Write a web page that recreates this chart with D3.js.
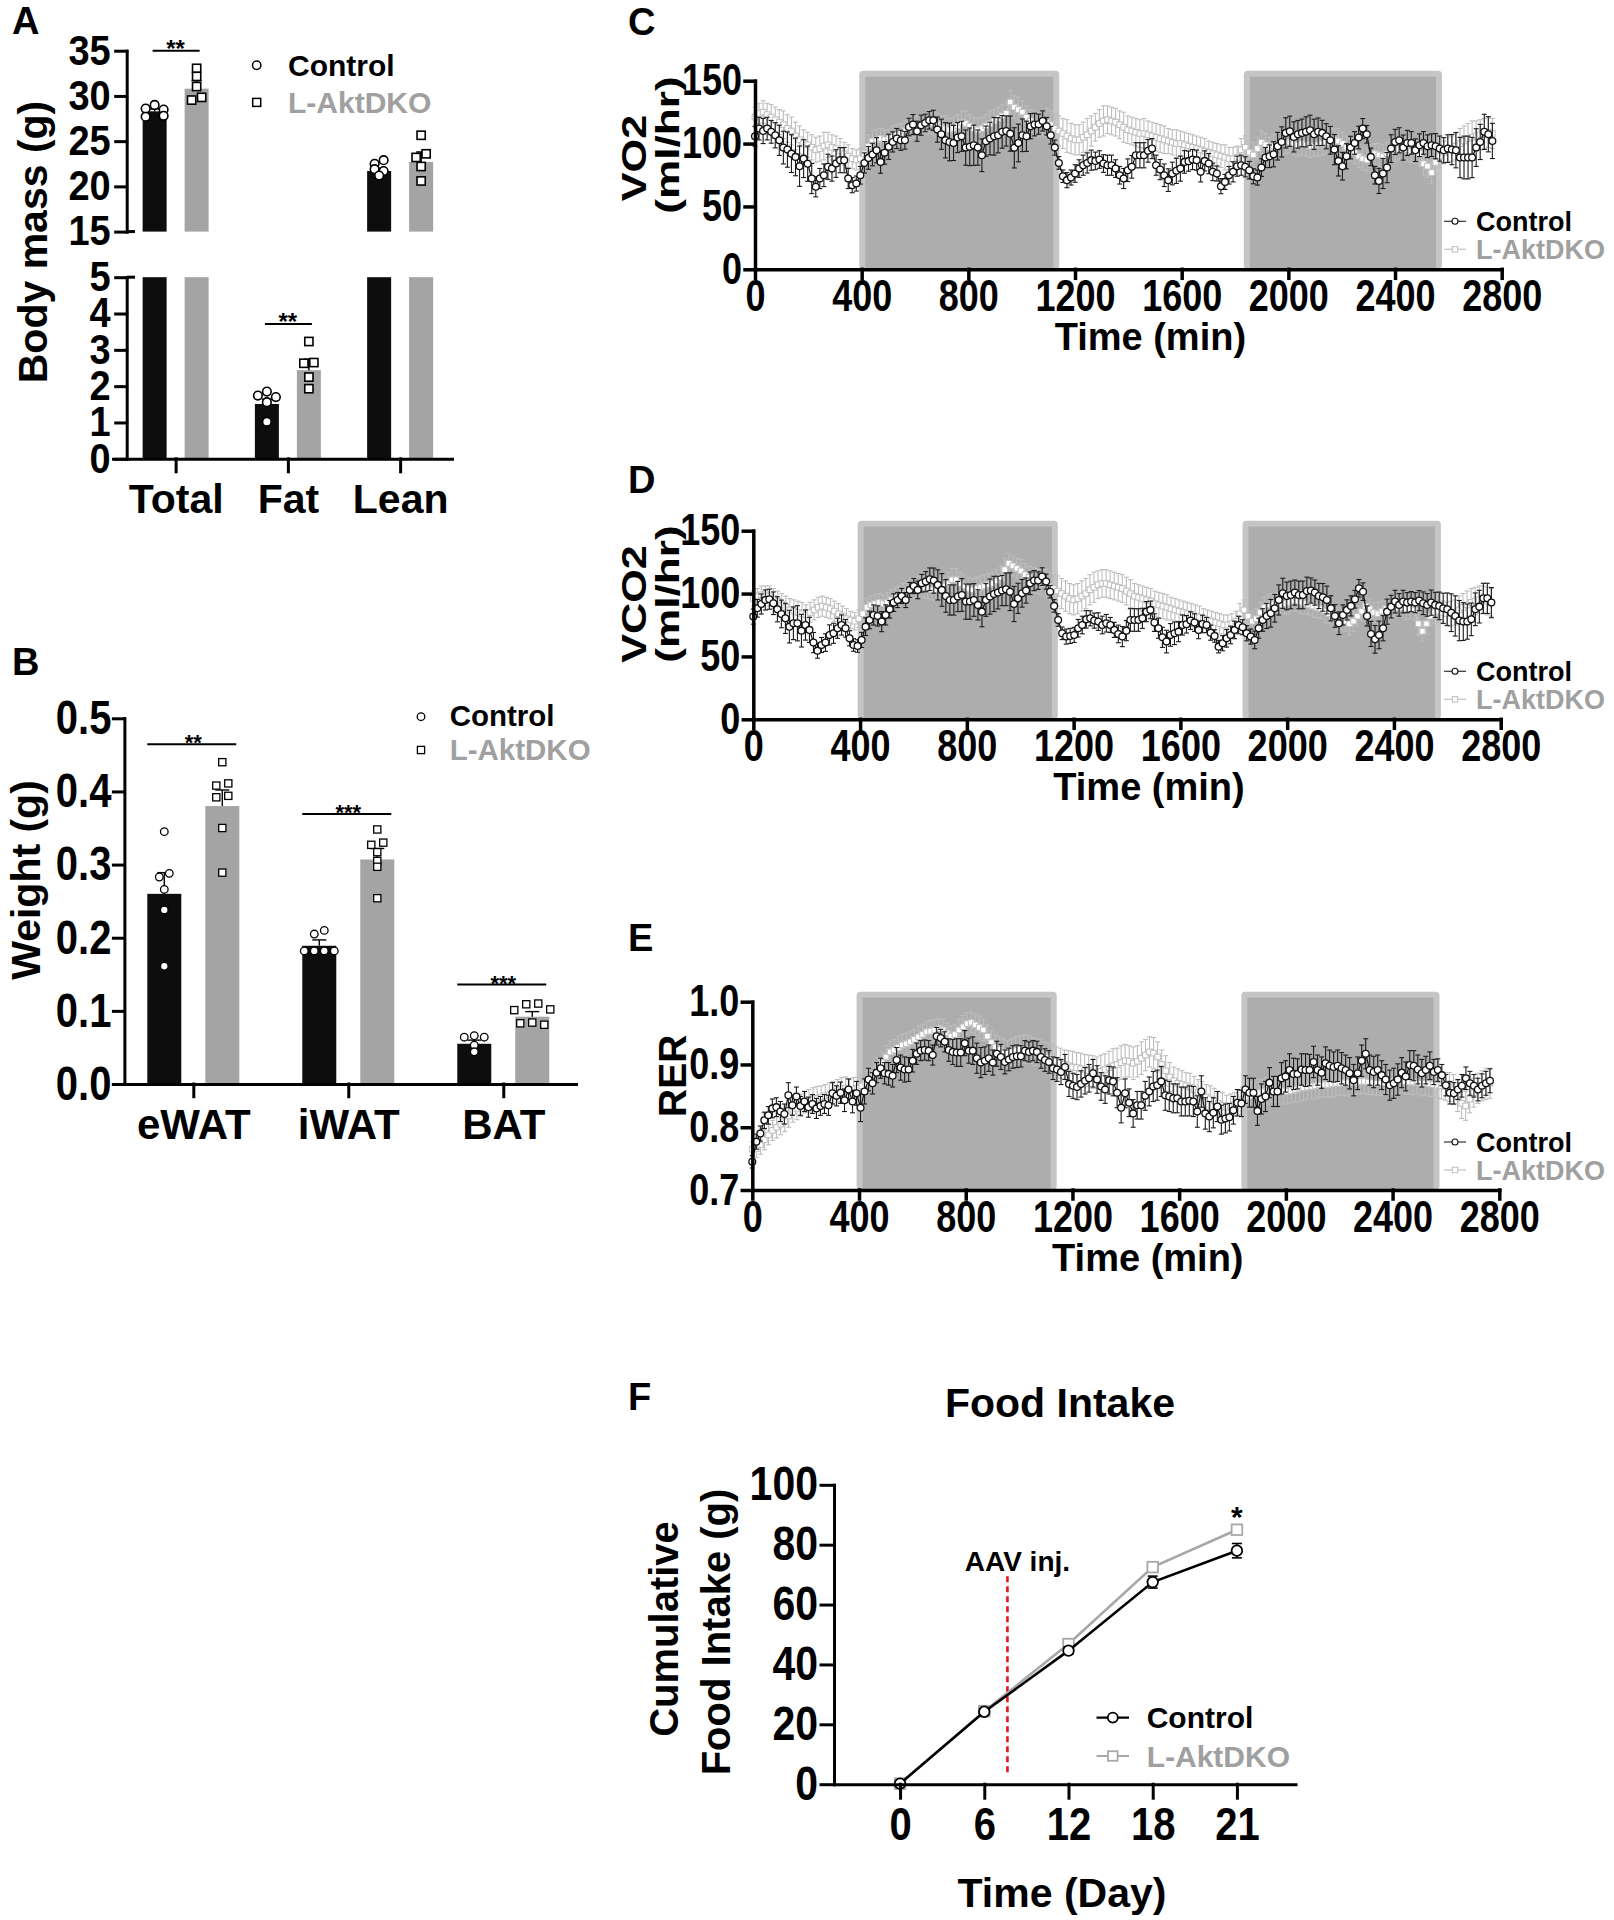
<!DOCTYPE html>
<html>
<head>
<meta charset="utf-8">
<script src="https://cdn.jsdelivr.net/npm/d3@7"></script>
<style>
  body { margin: 0; background: #fff; }
</style>
</head>
<body>
<script>
// ---------------- data ----------------

// A: body composition (g)
var massGroups = ['Total', 'Fat', 'Lean'];
var massCtrlMean = [28.3, 1.51, 21.7];
var massCtrlSem = [0.25, 0.13, 0.3];
var massKoMean = [30.8, 2.44, 22.7];
var massKoSem = [0.9, 0.3, 1.1];
var massCtrlPts = [[29.0, 28.6, 28.5, 27.8, 27.7], [1.85, 1.74, 1.70, 1.56, 1.02], [22.9, 22.5, 21.9, 21.7, 21.2]];
var massKoPts = [[33.05, 32.16, 31.04, 29.84, 29.54], [3.23, 2.65, 2.63, 2.25, 1.93], [25.65, 23.6, 23.2, 22.2, 20.6]];
var massTicksUpper = [15, 20, 25, 30, 35];
var massTicksLower = [0, 1, 2, 3, 4, 5];
var massSig = [{ group: 'Total', value: 35.0, label: '**' }, { group: 'Fat', value: 3.71, label: '**' }];

// B: fat depot weight (g)
var fatGroups = ['eWAT', 'iWAT', 'BAT'];
var fatCtrlMean = [0.260, 0.189, 0.055];
var fatCtrlSem = [0.029, 0.008, 0.005];
var fatKoMean = [0.380, 0.307, 0.092];
var fatKoSem = [0.022, 0.015, 0.007];
var fatCtrlPts = [[0.345, 0.288, 0.283, 0.266, 0.238, 0.161], [0.210, 0.205, 0.182, 0.182, 0.182, 0.182], [0.066, 0.064, 0.064, 0.053, 0.044]];
var fatKoPts = [[0.440, 0.411, 0.408, 0.394, 0.392, 0.350, 0.289], [0.348, 0.330, 0.327, 0.317, 0.305, 0.297, 0.254], [0.110, 0.109, 0.102, 0.101, 0.084, 0.083, 0.081]];
var fatTicks = [0, 0.1, 0.2, 0.3, 0.4, 0.5];
var fatSig = [{ group: 'eWAT', value: 0.4645, label: '**' }, { group: 'iWAT', value: 0.369, label: '***' }, { group: 'BAT', value: 0.136, label: '***' }];

// C-E: indirect calorimetry, evenly sampled from 0 to T_LAST min
var T_LAST = 2765;
var timeTicks = [0, 400, 800, 1200, 1600, 2000, 2400, 2800];
var darkPhases = [[391, 1141], [1833, 2576]];

var vo2Ctrl = [105.8,111.9,110,111.9,109.3,106.6,102.6,96.8,95.2,92, 89.4,82,88,84,72.2,65.6,72.2,74.8,81.5,80.1,
  84.1,86.8,86.8,72.2,66.9,68.2,74.8,84.6,88.6,91.3, 94.7,85.4,92.6,97.4,101.3,104,102.6,102.6,113.2,115.1,
  109.8,114.6,116.4,118.5,118.5,111.1,107.4,102.6,101.3,100.5, 104.8,105.8,96.8,97.4,98.7,96.8,90.7,101.9,104,105.8,
  106.6,109.3,110,107.9,96.6,100.5,106.6,105.8,113.8,115.1, 115.4,118,113.8,106.6,96.8,84.6,74,70.9,73,76.2,
  80.1,82.8,84.6,86.8,86.2,87.3,84.1,82.8,82.8,80.1, 74.8,72.2,
  78.8,81.5,90.7,90.7,90.7,94.2,96,82.8,79.3,74.8, 70.9,76.2,78.3,80.1,85.4,86,87.3,86.8,77.5,86.2,
  84.1,77.5,76.2,66.1,69.5,74.8,77.5,82,82.8,81.5, 78.8,74,73,80.9,88.9,89.9,91.5,97.9,101.3,108.5,
  109.8,105.3,107.4,108.5,109.3,110.6,107.4,109.3,108.5,105.8, 102.6,95.2,86.2,82,89.9,96.8,100.5,104.8,111.9,107.4,
  89.4,74.8,70.3,76.2,80.9,96,101.3,102.6,96.8,100.5, 100.5,94.7,98.7,100.5,97.9,98.7,97.9,96,94.7,96,
  95.2,94.7,88.9,88.9,88.9,88.9,96.8,101.3,109.3,107.4, 102.1];
var vo2CtrlSem = [8,9,10,9,9,10,12,13,14,15, 15,16,15,14,12,8,8,9,10,10, 11,10,10,8,6,6,7,8,9,9,
  10,9,9,10,8,8,8,7,7,8, 8,8,7,7,8,10,12,14,15,14, 12,12,14,15,16,14,13,12,13,15,
  14,13,12,14,16,15,13,12,10,9, 8,8,7,7,6,5,5,6,6,7, 7,8,8,8,7,7,7,8,8,7,
  7,8,9,9,10,10,10,9,8,8, 8,9,9,9,10,10,9,8,8,8, 8,8,8,7,6,6,6,7,8,8,
  8,8,7,6,6,7,8,9,10,11, 12,12,12,12,11,11,12,12,12,11, 10,10,11,12,12,11,10,9,9,9,
  8,7,7,7,10,12,12,11,10,10, 10,10,9,9,9,9,9,9,10,10, 10,11,12,14,16,17,17,16,15,14, 14,14,14];
var vo2Ko = [121,124,125,123,121,119,117,115,112,110, 106,103,101,99,97,95,96,98,99,97,
  96,94,92,90,88,87,88,92,98,102, 103,104,103,104,106,107,108,110,112,113,
  114,115,116,117,116,115,113,112,111,112, 114,117,116,114,112,111,112,114,116,118,
  120,122,124,133,129,127,125,121,118,116, 115,116,117,115,112,110,108,106,104,103,
  103,105,107,110,113,116,118,119,118,117, 115,113,111,110,109,108,108,107,106,105,
  104,103,102,101,100,100,99,98,97,96, 95,94,93,92,91,90,89,88,88,89,
  95,97,93,91,96,101,99,97,98,99, 100,101,101,100,99,100,99,98,98,99,
  100,101,102,103,102,100,97,95,93,90, 88,87,90,92,91,90,92,94,95,96,
  96,95,94,93,92,84,82,77,85,90, 93,95,96,98,100,102,104,105,106,107, 108,109,108];
var vo2KoSem = [8,8,9,9,10,10,10,11,11,11, 11,11,10,10,10,10,10,11,10,10, 10,10,9,9,8,8,8,8,9,8,
  8,8,8,7,8,8,8,8,9,8, 8,8,8,9,9,9,9,10,9,9, 9,9,10,9,9,9,9,9,10,9,
  9,9,9,9,9,10,9,9,9,10, 10,10,11,11,12,12,12,13,12,12, 12,12,13,12,11,11,12,11,11,11,
  11,12,11,11,11,11,12,11,11,11, 11,11,10,10,11,10,10,10,10,10, 10,10,9,9,9,9,10,9,9,9,
  9,9,9,10,9,9,9,8,9,9, 9,9,8,9,9,9,9,9,8,9, 9,9,9,9,10,9,9,9,9,9,
  9,9,9,8,9,9,9,9,9,9, 9,9,9,9,10,9,9,9,9,9, 9,10,10,11,12,12,12,13,12,12, 12,12,12];

var vco2Ctrl = [81.7,88.3,91.7,94.9,95.5,92.3,87.5,83.8,80.3,73.7, 76.4,76.4,70.5,75,71.1,61,54.6,59.1,61,67.1,
  68.4,72.4,75,72.4,64.4,59.1,58.3,63.1,73.7,79, 83,82.2,77.7,83,87.5,92.8,94.9,98.1,94.9,102.9,
  106,102.9,108.2,109.5,111.4,110.3,106.9,102.9,98.1,94.9, 94.9,97.6,98.9,93.6,93.6,94.9,91,85.6,94.9,97.6,
  99.7,100.8,102.4,103.4,101.5,91.7,96.2,100.2,102.4,108.2, 110.3,110.3,113.5,109.5,101.5,90.2,79,68.4,65.8,66.3,
  67.1,72.4,75,79.5,80.3,78.5,77.7,75,76.4,75, 71.1,67.9,65.8,
  70.5,79,79,79,80.3,85.6,87,76.9,72.4,65.2, 61.8,67.1,68.4,69.7,75,75.6,78.5,76.9,71.1,75.8,
  75,68.9,66.3,57.8,60.5,64.4,67.1,71.1,75,73.2, 68.4,65.8,63.1,72.4,79,82.2,84.3,88.3,94.9,100.2,
  98.1,98.9,100.8,98.9,98.9,102.1,102.4,100.8,98.1,97, 94.9,88.3,82.2,76.4,83,87,90.2,95.5,104.2,101.5,
  82.2,67.9,63.6,67.1,72.4,85.6,89.6,93.6,91,93.6, 92.8,93.6,92.8,94.4,92.3,91,92.8,91,90.2,88.3,
  87.5,84.8,82.2,78.5,77.7,77.7,79.5,87.5,89.6,96.2, 96.2,92.8];
var vco2CtrlSem = [6,7,8,8,8,9,10,11,12,13, 13,14,13,12,10,8,6,6,7,8, 8,8,8,7,6,5,5,6,7,7,
  8,8,8,8,7,7,6,6,6,6, 6,7,7,8,9,10,12,13,13,12, 12,12,13,14,14,13,12,12,13,14,
  14,13,12,13,15,14,12,11,10,9, 8,7,7,6,5,5,5,5,6,6, 6,7,7,7,6,6,7,7,7,6,
  6,7,8,8,9,9,9,8,8,7, 7,8,8,9,9,9,8,8,7,7, 7,7,7,6,6,5,5,6,7,7,
  7,7,6,6,6,7,8,9,10,11, 11,12,12,11,11,10,11,11,11,10, 10,10,11,11,10,9,9,8,8,8,
  7,7,7,8,10,11,11,10,10,9, 9,9,9,8,8,8,8,9,9,10, 10,11,12,13,15,16,16,15,14,13, 13,13,12,12,12];
var vco2Ko = [96,98,99,99,98,96,94,91,89,87, 86,85,84,83,85,87,89,90,89,88,
  86,84,82,80,79,78,80,84,89,91, 92,93,92,93,95,97,98,100,102,104,
  105,106,105,104,103,103,104,106,108,111, 111,108,106,104,103,104,105,106,107,108,
  110,113,119,124,122,120,118,115,113,111, 110,109,108,106,104,102,100,98,96,95,
  96,98,100,103,105,107,108,108,107,106, 105,104,102,100,98,97,96,95,94,92,
  91,90,89,88,87,86,85,84,83,82, 81,80,79,78,77,76,75,75,76,78,
  84,87,82,78,80,85,89,91,92,93, 91,92,93,94,94,93,92,91,90,89,
  88,86,84,82,80,79,78,76,78,82, 86,90,88,85,84,86,88,89,90,89,
  89,88,88,87,76,70,76,82,85,86, 85,84,84,85,87,89,91,93,94,95, 95,94,93];
var vco2KoSem = [6,6,7,7,8,8,8,9,9,9, 9,9,9,8,8,8,8,8,8,8, 8,8,8,8,7,7,7,7,7,7,
  7,7,7,8,8,8,8,8,8,8, 8,8,8,8,8,8,8,8,9,9, 9,9,9,9,9,9,9,9,9,9,
  9,9,9,8,8,8,9,9,9,10, 10,10,11,11,11,12,12,12,12,12, 12,12,12,12,12,11,11,11,11,11,
  11,11,11,11,10,10,10,10,10,10, 10,10,10,9,9,9,9,9,9,9, 9,8,8,8,8,8,8,8,8,8,
  8,8,8,8,8,8,8,8,8,8, 8,8,9,8,8,9,8,8,9,8, 8,9,8,8,9,8,8,9,8,8,
  8,9,8,8,9,8,8,9,8,8, 8,9,8,8,9,8,8,8,9,9, 9,9,10,10,11,11,11,11,11,11, 11,11,11];

var rerCtrl = [0.745,0.777,0.790,0.811,0.819,0.830,0.832,0.825,0.821,0.851, 0.835,0.849,0.834,0.841,0.832,0.837,0.830,0.834,0.837,0.835,
  0.854,0.850,0.855,0.843,0.860,0.841,0.854,0.831,0.857,0.876, 0.870,0.887,0.894,0.886,0.885,0.882,0.907,0.895,0.892,0.892,
  0.906,0.917,0.922,0.923,0.922,0.915,0.945,0.942,0.936,0.923, 0.920,0.919,0.919,0.934,0.922,0.922,0.910,0.903,0.906,0.910,
  0.903,0.917,0.912,0.904,0.908,0.912,0.913,0.913,0.922,0.920, 0.922,0.920,0.912,0.907,0.904,0.894,0.892,0.888,0.896,0.869,
  0.866,0.864,0.869,0.874,0.878,0.886,0.876,0.865,0.860,0.875, 0.873,0.855,0.831,0.854,
  0.839,0.822,0.835,0.835,0.850,0.857,0.865,0.867,0.873,0.851, 0.849,0.846,0.846,0.841,0.841,0.842,0.841,0.825,0.857,0.822,
  0.817,0.823,0.833,0.812,0.814,0.816,0.827,0.839,0.838,0.860, 0.855,0.855,0.826,0.845,0.849,0.871,0.857,0.857,0.878,0.881,
  0.891,0.885,0.885,0.892,0.891,0.891,0.904,0.891,0.887,0.902, 0.898,0.896,0.898,0.894,0.891,0.886,0.875,0.886,0.906,0.917,
  0.891,0.888,0.891,0.883,0.876,0.867,0.870,0.876,0.887,0.881, 0.899,0.898,0.892,0.886,0.891,0.898,0.888,0.891,0.883,0.867,
  0.855,0.854,0.860,0.866,0.878,0.870,0.866,0.860,0.866,0.870, 0.874];
var rerCtrlSem = [0.010,0.012,0.012,0.013,0.014,0.015,0.015,0.016,0.016,0.020, 0.016,0.015,0.015,0.016,0.016,0.015,0.016,0.015,0.015,0.016,
  0.017,0.016,0.017,0.018,0.017,0.018,0.019,0.022,0.020,0.018, 0.017,0.016,0.016,0.017,0.018,0.018,0.020,0.020,0.020,0.019,
  0.018,0.017,0.016,0.016,0.016,0.016,0.014,0.014,0.016,0.018, 0.020,0.022,0.022,0.020,0.020,0.022,0.024,0.024,0.022,0.021,
  0.020,0.020,0.020,0.019,0.018,0.018,0.018,0.017,0.016,0.016, 0.016,0.017,0.018,0.018,0.018,0.018,0.019,0.020,0.020,0.020,
  0.020,0.020,0.021,0.021,0.022,0.022,0.022,0.022,0.022,0.022, 0.023,0.024,0.024,0.023,0.022,0.022,0.022,0.022,0.023,0.023,
  0.024,0.024,0.024,0.024,0.024,0.023,0.023,0.023,0.023,0.024, 0.024,0.025,0.025,0.025,0.024,0.024,0.024,0.023,0.023,0.022,
  0.022,0.021,0.021,0.022,0.023,0.023,0.023,0.024,0.024,0.024, 0.024,0.024,0.025,0.025,0.026,0.025,0.024,0.025,0.026,0.025,
  0.025,0.024,0.025,0.026,0.025,0.024,0.025,0.025,0.024,0.025, 0.025,0.026,0.025,0.024,0.024,0.025,0.024,0.023,0.024,0.024,
  0.024,0.025,0.024,0.023,0.023,0.024,0.023,0.022,0.022,0.022, 0.020,0.018,0.017,0.017,0.018,0.017,0.016,0.018,0.018,0.019,
  0.018,0.018,0.019,0.019,0.019];
var rerKo = [0.765,0.766,0.772,0.780,0.788,0.795,0.800,0.805,0.810,0.818, 0.825,0.830,0.835,0.840,0.842,0.845,0.846,0.848,0.850,0.852,
  0.855,0.858,0.860,0.862,0.858,0.860,0.862,0.866,0.870,0.878, 0.885,0.893,0.903,0.912,0.920,0.923,0.927,0.931,0.933,0.936,
  0.940,0.944,0.948,0.952,0.953,0.955,0.957,0.955,0.950,0.945, 0.948,0.955,0.960,0.965,0.967,0.963,0.959,0.955,0.945,0.935,
  0.928,0.924,0.920,0.918,0.920,0.922,0.924,0.925,0.924,0.922, 0.920,0.917,0.914,0.911,0.908,0.905,0.902,0.900,0.898,0.896,
  0.895,0.893,0.892,0.890,0.888,0.887,0.889,0.892,0.895,0.898, 0.900,0.903,0.906,0.905,0.902,0.905,0.910,0.915,0.920,0.918,
  0.912,0.900,0.890,0.880,0.874,0.870,0.868,0.866,0.864,0.860, 0.856,0.852,0.848,0.845,0.842,0.838,0.835,0.832,0.833,0.836,
  0.840,0.845,0.848,0.850,0.852,0.855,0.857,0.858,0.860,0.860, 0.860,0.858,0.857,0.858,0.860,0.862,0.863,0.864,0.865,0.866,
  0.867,0.868,0.868,0.869,0.870,0.870,0.871,0.871,0.872,0.872, 0.873,0.873,0.872,0.871,0.870,0.870,0.871,0.872,0.873,0.874,
  0.874,0.873,0.872,0.872,0.871,0.870,0.870,0.869,0.868,0.867, 0.866,0.865,0.864,0.860,0.850,0.838,0.834,0.845,0.855,0.862,
  0.866,0.869,0.870];
var rerKoSem = [0.012,0.014,0.015,0.016,0.016,0.016,0.017,0.017,0.017,0.018, 0.017,0.018,0.018,0.017,0.018,0.018,0.019,0.018,0.018,0.019,
  0.018,0.018,0.019,0.018,0.018,0.019,0.018,0.018,0.019,0.018, 0.018,0.018,0.017,0.018,0.017,0.017,0.018,0.017,0.017,0.016,
  0.016,0.017,0.016,0.016,0.017,0.016,0.016,0.017,0.016,0.016, 0.016,0.017,0.018,0.017,0.016,0.017,0.018,0.017,0.018,0.019,
  0.019,0.020,0.021,0.020,0.021,0.022,0.021,0.022,0.022,0.021, 0.022,0.023,0.022,0.023,0.024,0.023,0.024,0.023,0.024,0.025,
  0.024,0.025,0.024,0.025,0.026,0.025,0.026,0.025,0.026,0.027, 0.026,0.027,0.026,0.025,0.026,0.025,0.026,0.025,0.024,0.025,
  0.024,0.023,0.024,0.023,0.022,0.023,0.022,0.021,0.022,0.021, 0.020,0.021,0.020,0.021,0.020,0.019,0.020,0.019,0.020,0.019,
  0.020,0.019,0.020,0.021,0.020,0.021,0.020,0.021,0.020,0.021, 0.020,0.021,0.020,0.019,0.020,0.021,0.020,0.019,0.020,0.021,
  0.020,0.019,0.020,0.021,0.020,0.019,0.020,0.021,0.020,0.019, 0.020,0.019,0.020,0.019,0.020,0.019,0.020,0.019,0.020,0.019,
  0.019,0.020,0.019,0.020,0.019,0.020,0.019,0.020,0.019,0.020, 0.021,0.022,0.023,0.024,0.025,0.024,0.023,0.022,0.023,0.024,
  0.024,0.025,0.024];

// F: cumulative food intake (g)
var foodDays = ['0', '6', '12', '18', '21'];
var foodCtrl = [0.2, 24.2, 44.6, 67.5, 78.0];
var foodCtrlSem = [0.3, 0.8, 1.2, 2.0, 2.4];
var foodKo = [0.2, 24.4, 46.8, 72.5, 85.0];
var foodKoSem = [0.3, 0.8, 1.8, 1.5, 1.2];
var foodTicks = [0, 20, 40, 60, 80, 100];
var aavInj = { day: 7.65, from: 4, to: 69.6, label: 'AAV inj.' };

// ---------------- drawing ----------------
var FONT = '"Liberation Sans", Arial, Helvetica, sans-serif';
var BLACK = '#0d0d0d', GREY = '#a4a4a4', GREY_TXT = '#a0a0a0';

var svg = d3.select('body').append('svg')
  .attr('width', 1614).attr('height', 1920)
  .style('font-family', FONT).style('font-weight', 'bold');
svg.append('rect').attr('width', 1614).attr('height', 1920).attr('fill', '#fff');

function txt(g, x, y, s, size, anchor, fill) {
  return g.append('text').attr('x', x).attr('y', y).text(s)
    .attr('font-size', size).attr('text-anchor', anchor || 'start')
    .attr('fill', fill || '#000').attr('font-family', FONT).attr('font-weight', 'bold');
}

function styleAxis(sel, sw, fs) {
  sel.attr('font-family', null).attr('font-size', null);
  sel.selectAll('path, line').attr('stroke', '#000').attr('stroke-width', sw).attr('stroke-linecap', 'square');
  sel.selectAll('text').attr('font-size', fs).attr('font-family', FONT)
    .attr('font-weight', 'bold').attr('fill', '#000');
}

// the figure's tick labels are set in a tall, narrow face: stretch vertically about anchor y
function stretch(sel, k, anchor) {
  sel.each(function() {
    var t = d3.select(this);
    var a = anchor == null ? (+t.attr('y') || 0) : anchor;
    t.attr('transform', 'translate(0,' + (a * (1 - k)) + ') scale(1,' + k + ')');
  });
}
function stretchXTicks(ax, k, fs) {
  ax.selectAll('.tick text').each(function() {
    var t = d3.select(this);
    stretch(t, k, +t.attr('y') + 0.71 * fs);
  });
}

function vtitle(g, x, y, s, size, k) {
  return g.append('text')
    .attr('transform', 'translate(' + x + ',' + y + ') scale(1,' + (k || 1) + ') rotate(-90)')
    .attr('text-anchor', 'middle').attr('font-size', size).attr('font-family', FONT)
    .attr('font-weight', 'bold').text(s);
}

// simple beeswarm: spread crowded points sideways, then centre each row
function swarm(vals, yf, cx, gap, step) {
  var placed = [];
  vals.forEach(function(v) {
    var y = yf(v), offs = [0], x = cx;
    for (var k = 1; k < 6; k++) offs.push(-k * step, k * step);
    for (var j = 0; j < offs.length; j++) {
      x = cx + offs[j];
      var free = placed.every(function(p) { return Math.hypot(p[0] - x, p[1] - y) >= gap; });
      if (free) break;
    }
    placed.push([x, y]);
  });
  var rows = [];
  placed.slice().sort(function(a, b) { return a[1] - b[1]; }).forEach(function(p) {
    var last = rows[rows.length - 1];
    if (last && p[1] - last[last.length - 1][1] < 4) last.push(p); else rows.push([p]);
  });
  rows.forEach(function(r) {
    var m = d3.mean(r, function(p) { return p[0]; }) - cx;
    r.forEach(function(p) { p[0] -= m; });
  });
  return placed;
}

function marker(g, shape, x, y, r, stroke, sw) {
  if (shape === 'circle') {
    g.append('circle').attr('cx', x).attr('cy', y).attr('r', r)
      .attr('fill', '#fff').attr('stroke', stroke).attr('stroke-width', sw);
  } else {
    g.append('rect').attr('x', x - r).attr('y', y - r).attr('width', 2 * r).attr('height', 2 * r)
      .attr('fill', '#fff').attr('stroke', stroke).attr('stroke-width', sw);
  }
}

// panel letters
[['A', 12, 34], ['B', 12, 675], ['C', 628, 35], ['D', 628, 493], ['E', 628, 951], ['F', 628, 1410]]
  .forEach(function(d) { txt(svg, d[1], d[2], d[0], 38); });

// ---- Panel A: broken y axis ----
(function() {
  var g = svg.append('g');
  var x = d3.scalePoint().domain(massGroups).range([113, 452]).padding(0.51).align(0.547);
  var yUp = d3.scaleLinear().domain([15, 35]).range([231.6, 50.7]);
  var yLo = d3.scaleLinear().domain([0, 5]).range([458.8, 277.2]);
  var segs = [yLo, yUp];
  function y(v) { return v >= 15 ? yUp(v) : yLo(v); }
  var barW = 24, off = 21;

  massGroups.forEach(function(grp, i) {
    [[massCtrlMean, massCtrlSem, BLACK, -off], [massKoMean, massKoSem, GREY, off]].forEach(function(s) {
      var m = s[0][i], cx = x(grp) + s[3];
      segs.forEach(function(sc) {
        var d = sc.domain();
        if (m > d[0]) {
          var top = sc(Math.min(m, d[1]));
          g.append('rect').attr('x', cx - barW / 2).attr('y', top)
            .attr('width', barW).attr('height', sc(d[0]) - top).attr('fill', s[2]);
        }
      });
      var e = s[1][i];
      g.append('line').attr('x1', cx).attr('x2', cx).attr('y1', y(m)).attr('y2', y(m + e))
        .attr('stroke', '#000').attr('stroke-width', 1.5);
      g.append('line').attr('x1', cx - 5).attr('x2', cx + 5).attr('y1', y(m + e)).attr('y2', y(m + e))
        .attr('stroke', '#000').attr('stroke-width', 1.5);
    });
    swarm(massCtrlPts[i], y, x(grp) - off, 8.8, 9).forEach(function(p) { marker(g, 'circle', p[0], p[1], 4.3, '#000', 1.6); });
    swarm(massKoPts[i], y, x(grp) + off, 9.4, 10).forEach(function(p) { marker(g, 'square', p[0], p[1], 4.1, '#000', 1.6); });
  });

  massSig.forEach(function(s) {
    var yy = y(s.value), cx = x(s.group);
    g.append('line').attr('x1', cx - off - 2).attr('x2', cx + off + 3).attr('y1', yy).attr('y2', yy)
      .attr('stroke', '#000').attr('stroke-width', 2);
    txt(g, cx, yy + 6, s.label, 24, 'middle');
  });

  var axU = g.append('g').attr('transform', 'translate(126.7,0)')
    .call(d3.axisLeft(yUp).tickValues(massTicksUpper).tickFormat(d3.format('d')).tickSize(11).tickSizeOuter(0).tickPadding(5));
  var axL = g.append('g').attr('transform', 'translate(126.7,0)')
    .call(d3.axisLeft(yLo).tickValues(massTicksLower).tickFormat(d3.format('d')).tickSize(11).tickSizeOuter(0).tickPadding(5));
  styleAxis(axU, 3, 38); styleAxis(axL, 3, 38);
  stretch(axU.selectAll('.tick text'), 1.1, 0);
  stretch(axL.selectAll('.tick text'), 1.1, 0);
  [yUp(15), yLo(5)].forEach(function(yy) {
    g.append('line').attr('x1', 126.7).attr('x2', 135).attr('y1', yy).attr('y2', yy)
      .attr('stroke', '#000').attr('stroke-width', 3);
  });
  var axX = g.append('g').attr('transform', 'translate(0,458.8)')
    .call(d3.axisBottom(x).tickSize(13).tickSizeOuter(0).tickPadding(12));
  styleAxis(axX, 3, 41);

  vtitle(g, 47, 242, 'Body mass (g)', 41);

  marker(g, 'circle', 256.7, 65.2, 4.2, '#000', 1.5);
  marker(g, 'square', 256.7, 102.4, 4, '#000', 1.5);
  txt(g, 288, 76, 'Control', 30);
  txt(g, 288, 113, 'L-AktDKO', 30, 'start', GREY_TXT);
})();

// ---- Panel B ----
(function() {
  var g = svg.append('g');
  var x = d3.scalePoint().domain(fatGroups).range([112.9, 576]).padding(0.494).align(0.525);
  var y = d3.scaleLinear().domain([0, 0.5]).range([1084, 718.3]);
  var barW = 34, off = 29;

  fatGroups.forEach(function(grp, i) {
    [[fatCtrlMean, fatCtrlSem, BLACK, -off], [fatKoMean, fatKoSem, GREY, off]].forEach(function(s) {
      var m = s[0][i], cx = x(grp) + s[3], e = s[1][i];
      g.append('rect').attr('x', cx - barW / 2).attr('y', y(m)).attr('width', barW)
        .attr('height', y(0) - y(m)).attr('fill', s[2]);
      g.append('line').attr('x1', cx).attr('x2', cx).attr('y1', y(m)).attr('y2', y(m + e))
        .attr('stroke', '#000').attr('stroke-width', 1.4);
      g.append('line').attr('x1', cx - 7).attr('x2', cx + 7).attr('y1', y(m + e)).attr('y2', y(m + e))
        .attr('stroke', '#000').attr('stroke-width', 1.4);
    });
    swarm(fatCtrlPts[i], y, x(grp) - off, 8.2, 10).forEach(function(p) { marker(g, 'circle', p[0], p[1], 3.8, '#000', 1.3); });
    swarm(fatKoPts[i], y, x(grp) + off, 8.2, 12).forEach(function(p) { marker(g, 'square', p[0], p[1], 3.6, '#000', 1.3); });
  });

  fatSig.forEach(function(s) {
    var yy = y(s.value), cx = x(s.group);
    g.append('line').attr('x1', cx - off - 17).attr('x2', cx + off + 14).attr('y1', yy).attr('y2', yy)
      .attr('stroke', '#000').attr('stroke-width', 2);
    txt(g, cx, yy + 6, s.label, 22, 'middle');
  });

  var axY = g.append('g').attr('transform', 'translate(124.4,0)')
    .call(d3.axisLeft(y).tickValues(fatTicks).tickFormat(d3.format('.1f')).tickSize(11).tickSizeOuter(0).tickPadding(2));
  styleAxis(axY, 3, 40);
  stretch(axY.selectAll('.tick text'), 1.2, 0);
  var axX = g.append('g').attr('transform', 'translate(0,1084)')
    .call(d3.axisBottom(x).tickSize(12.7).tickSizeOuter(0).tickPadding(12));
  styleAxis(axX, 3, 42);

  vtitle(g, 40, 880, 'Weight  (g)', 41);

  marker(g, 'circle', 421, 716.7, 3.8, '#000', 1.3);
  marker(g, 'square', 421, 750, 3.6, '#000', 1.3);
  txt(g, 449.7, 726, 'Control', 29.5);
  txt(g, 449.7, 760, 'L-AktDKO', 29.5, 'start', GREY_TXT);
})();

// ---- Panels C, D, E: time courses ----
function timePanel(o) {
  var g = svg.append('g');
  var x = d3.scaleLinear().domain([0, 2800]).range([o.left, o.right]);
  var y = d3.scaleLinear().domain(o.yDomain).range([o.bottom, o.top]);

  darkPhases.forEach(function(p) {
    g.append('rect').attr('x', x(p[0])).attr('y', o.top - 10)
      .attr('width', x(p[1]) - x(p[0])).attr('height', o.bottom - o.top + 10)
      .attr('rx', 4).attr('fill', '#c5c5c5');
    g.append('rect').attr('x', x(p[0]) + 6).attr('y', o.top - 4)
      .attr('width', x(p[1]) - x(p[0]) - 12).attr('height', o.bottom - o.top + 4)
      .attr('fill', '#adadad');
  });

  function series(vals, sem, lineCol, errCol, shape, mkStroke, r, sw) {
    var n = vals.length;
    var pts = vals.map(function(v, i) { return { t: i * T_LAST / (n - 1), v: v, e: sem[i] || 0 }; });
    var eg = g.append('g').attr('stroke', errCol).attr('stroke-width', 1.1);
    pts.forEach(function(p) {
      var cx = x(p.t), lo = y(p.v - p.e), hi = y(p.v + p.e);
      eg.append('line').attr('x1', cx).attr('x2', cx).attr('y1', lo).attr('y2', hi);
      eg.append('line').attr('x1', cx - 2.5).attr('x2', cx + 2.5).attr('y1', lo).attr('y2', lo);
      eg.append('line').attr('x1', cx - 2.5).attr('x2', cx + 2.5).attr('y1', hi).attr('y2', hi);
    });
    g.append('path').datum(pts)
      .attr('d', d3.line().x(function(p) { return x(p.t); }).y(function(p) { return y(p.v); }))
      .attr('fill', 'none').attr('stroke', lineCol).attr('stroke-width', 1.2);
    var mg = g.append('g');
    pts.forEach(function(p) { marker(mg, shape, x(p.t), y(p.v), r, mkStroke, sw); });
  }
  series(o.ko, o.koSem, '#c8c8c8', '#bdbdbd', 'square', '#c2c2c2', 2.8, 1.1);
  series(o.ctrl, o.ctrlSem, '#111', '#1a1a1a', 'circle', '#111', 3.4, 1.3);

  var axY = g.append('g').attr('transform', 'translate(' + o.left + ',0)')
    .call(d3.axisLeft(y).tickValues(o.ticks).tickFormat(o.fmt).tickSize(10).tickSizeOuter(0).tickPadding(3));
  styleAxis(axY, 3.5, 36);
  stretch(axY.selectAll('.tick text'), 1.22, 0);
  var axX = g.append('g').attr('transform', 'translate(0,' + o.bottom + ')')
    .call(d3.axisBottom(x).tickValues(timeTicks).tickFormat(d3.format('d')).tickSize(9).tickSizeOuter(0).tickPadding(7.5));
  styleAxis(axX, 3.5, 36);
  stretchXTicks(axX, 1.22, 36);

  txt(g, (o.left + o.right) / 2 + 22, o.bottom + 81, 'Time (min)', 38, 'middle');
  var mid = (o.top + o.bottom) / 2;
  o.title.forEach(function(l) { vtitle(g, l.x, mid + l.dy, l.text, l.size, l.k); });

  // legend
  var ly1 = o.bottom - 48, ly2 = o.bottom - 20;
  g.append('line').attr('x1', 1444).attr('x2', 1466).attr('y1', ly1).attr('y2', ly1).attr('stroke', '#333').attr('stroke-width', 1.2);
  marker(g, 'circle', 1455, ly1, 3, '#111', 1.1);
  g.append('line').attr('x1', 1444).attr('x2', 1466).attr('y1', ly2).attr('y2', ly2).attr('stroke', '#c2c2c2').attr('stroke-width', 1.2);
  marker(g, 'square', 1455, ly2, 2.7, '#c2c2c2', 1.1);
  txt(g, 1476, ly1 + 9.5, 'Control', 27);
  txt(g, 1476, ly2 + 9.5, 'L-AktDKO', 27, 'start', GREY_TXT);
}

timePanel({ left: 755, right: 1501.7, top: 80.7, bottom: 269.3, yDomain: [0, 150], ticks: [0, 50, 100, 150], fmt: d3.format('d'),
  ctrl: vo2Ctrl, ctrlSem: vo2CtrlSem, ko: vo2Ko, koSem: vo2KoSem,
  title: [{ text: 'VO2', x: 646, dy: -17, size: 36, k: 1.2 }, { text: '(ml/hr)', x: 679, dy: -30, size: 34, k: 1.3 }] });
timePanel({ left: 753.3, right: 1500.7, top: 530.7, bottom: 719.3, yDomain: [0, 150], ticks: [0, 50, 100, 150], fmt: d3.format('d'),
  ctrl: vco2Ctrl, ctrlSem: vco2CtrlSem, ko: vco2Ko, koSem: vco2KoSem,
  title: [{ text: 'VCO2', x: 646, dy: -21, size: 36, k: 1.2 }, { text: '(ml/hr)', x: 679, dy: -31, size: 34, k: 1.3 }] });
timePanel({ left: 752.3, right: 1499.3, top: 1001.7, bottom: 1190, yDomain: [0.7, 1.0], ticks: [0.7, 0.8, 0.9, 1.0], fmt: d3.format('.1f'),
  ctrl: rerCtrl, ctrlSem: rerCtrlSem, ko: rerKo, koSem: rerKoSem,
  title: [{ text: 'RER', x: 686, dy: -20, size: 39, k: 1 }] });

// ---- Panel F: food intake ----
(function() {
  var g = svg.append('g');
  var x = d3.scalePoint().domain(foodDays).range([834, 1295.5]).padding(0.74).align(0.53);
  var y = d3.scaleLinear().domain([0, 100]).range([1784.2, 1484.8]);

  txt(g, 1060, 1417, 'Food Intake', 41, 'middle');

  // AAV injection marker between the 6 and 12 day ticks
  var ax = x('6') + (aavInj.day - 6) / 6 * (x('12') - x('6'));
  g.append('line').attr('x1', ax).attr('x2', ax).attr('y1', y(aavInj.from)).attr('y2', y(aavInj.to))
    .attr('stroke', '#e3161d').attr('stroke-width', 2.6).attr('stroke-dasharray', '6,4');
  txt(g, ax + 10, y(aavInj.to) - 5, aavInj.label, 28, 'middle');

  function series(vals, sem, col, shape, mkCol) {
    var pts = vals.map(function(v, i) { return [x(foodDays[i]), v, sem[i]]; });
    pts.forEach(function(p) {
      var lo = y(p[1] - p[2]), hi = y(p[1] + p[2]);
      g.append('line').attr('x1', p[0]).attr('x2', p[0]).attr('y1', lo).attr('y2', hi).attr('stroke', mkCol).attr('stroke-width', 1.6);
      [lo, hi].forEach(function(yy) {
        g.append('line').attr('x1', p[0] - 5).attr('x2', p[0] + 5).attr('y1', yy).attr('y2', yy).attr('stroke', mkCol).attr('stroke-width', 1.6);
      });
    });
    g.append('path').datum(pts).attr('d', d3.line().x(function(p) { return p[0]; }).y(function(p) { return y(p[1]); }))
      .attr('fill', 'none').attr('stroke', col).attr('stroke-width', 2.6);
    pts.forEach(function(p) { marker(g, shape, p[0], y(p[1]), 5.3, mkCol, 1.8); });
  }
  series(foodKo, foodKoSem, '#a8a8a8', 'square', '#a8a8a8');
  series(foodCtrl, foodCtrlSem, '#000', 'circle', '#000');

  txt(g, x('21'), y(foodKo[4]) - 3, '*', 30, 'middle');

  var axY = g.append('g').attr('transform', 'translate(834,0)')
    .call(d3.axisLeft(y).tickValues(foodTicks).tickSize(13).tickSizeOuter(0).tickPadding(3));
  styleAxis(axY, 3, 41);
  stretch(axY.selectAll('.tick text'), 1.15, 0);
  var axX = g.append('g').attr('transform', 'translate(0,1784.2)')
    .call(d3.axisBottom(x).tickSize(14).tickSizeOuter(0).tickPadding(13));
  styleAxis(axX, 3, 40);
  stretchXTicks(axX, 1.17, 40);

  txt(g, 1062, 1907, 'Time (Day)', 41, 'middle');
  vtitle(g, 678, 1629, 'Cumulative', 40);
  vtitle(g, 730, 1632, 'Food Intake (g)', 40);

  g.append('line').attr('x1', 1096.5).attr('x2', 1129).attr('y1', 1717.6).attr('y2', 1717.6).attr('stroke', '#000').attr('stroke-width', 2.2);
  marker(g, 'circle', 1112.8, 1717.6, 5, '#000', 1.8);
  g.append('line').attr('x1', 1096.5).attr('x2', 1129).attr('y1', 1756).attr('y2', 1756).attr('stroke', '#a8a8a8').attr('stroke-width', 2.2);
  marker(g, 'square', 1112.8, 1756, 4.8, '#a8a8a8', 1.8);
  txt(g, 1146.7, 1728, 'Control', 30);
  txt(g, 1146.7, 1766.7, 'L-AktDKO', 30, 'start', GREY_TXT);
})();
</script>
</body>
</html>
